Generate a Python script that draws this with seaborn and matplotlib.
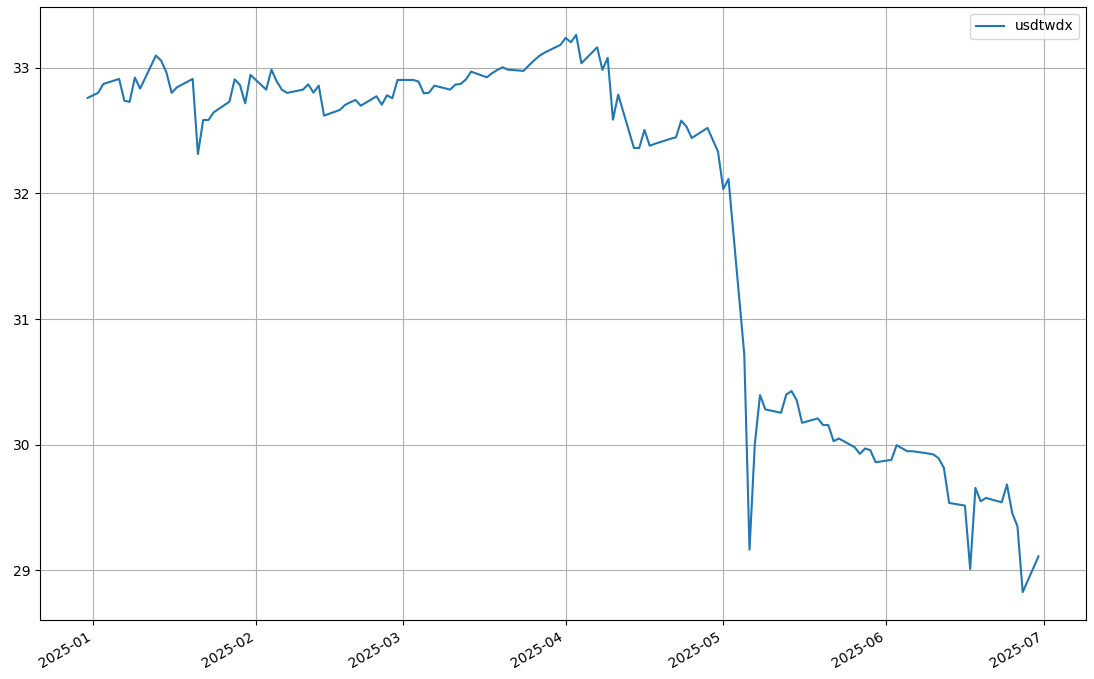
import numpy as np
import pandas as pd
import matplotlib
matplotlib.use('Agg')
import matplotlib.pyplot as plt
import seaborn as sns

# 일별 환율 (화면에서 읽은 값)
dates = [
    '2024-12-31', '2025-01-02', '2025-01-03', '2025-01-06', '2025-01-07', '2025-01-08',
    '2025-01-09', '2025-01-10', '2025-01-13', '2025-01-14', '2025-01-15', '2025-01-16',
    '2025-01-17', '2025-01-20', '2025-01-21', '2025-01-22', '2025-01-23', '2025-01-24',
    '2025-01-27', '2025-01-28', '2025-01-29', '2025-01-30', '2025-01-31',
    '2025-02-03', '2025-02-04', '2025-02-05', '2025-02-06', '2025-02-07',
    '2025-02-10', '2025-02-11', '2025-02-12', '2025-02-13', '2025-02-14',
    '2025-02-17', '2025-02-18', '2025-02-19', '2025-02-20', '2025-02-21',
    '2025-02-24', '2025-02-25', '2025-02-26', '2025-02-27', '2025-02-28',
    '2025-03-03', '2025-03-04', '2025-03-05', '2025-03-06', '2025-03-07',
    '2025-03-10', '2025-03-11', '2025-03-12', '2025-03-13', '2025-03-14',
    '2025-03-17', '2025-03-18', '2025-03-19', '2025-03-20', '2025-03-21',
    '2025-03-24', '2025-03-25', '2025-03-26', '2025-03-27', '2025-03-28',
    '2025-03-31', '2025-04-01', '2025-04-02', '2025-04-03', '2025-04-04',
    '2025-04-07', '2025-04-08', '2025-04-09', '2025-04-10', '2025-04-11',
    '2025-04-14', '2025-04-15', '2025-04-16', '2025-04-17', '2025-04-18',
    '2025-04-21', '2025-04-22', '2025-04-23', '2025-04-24', '2025-04-25',
    '2025-04-28', '2025-04-29', '2025-04-30', '2025-05-01', '2025-05-02',
    '2025-05-05', '2025-05-06', '2025-05-07', '2025-05-08', '2025-05-09',
    '2025-05-12', '2025-05-13', '2025-05-14', '2025-05-15', '2025-05-16',
    '2025-05-19', '2025-05-20', '2025-05-21', '2025-05-22', '2025-05-23',
    '2025-05-26', '2025-05-27', '2025-05-28', '2025-05-29', '2025-05-30',
    '2025-06-02', '2025-06-03', '2025-06-04', '2025-06-05', '2025-06-06',
    '2025-06-09', '2025-06-10', '2025-06-11', '2025-06-12', '2025-06-13',
    '2025-06-16', '2025-06-17', '2025-06-18', '2025-06-19', '2025-06-20',
    '2025-06-23', '2025-06-24', '2025-06-25', '2025-06-26', '2025-06-27',
    '2025-06-30',
]

usdtwdx = [
    32.761, 32.801, 32.872, 32.912, 32.739, 32.729,
    32.923, 32.835, 33.098, 33.058, 32.965, 32.801,
    32.845, 32.912, 32.314, 32.585, 32.585, 32.646,
    32.731, 32.909, 32.864, 32.718, 32.944,
    32.827, 32.986, 32.893, 32.825, 32.801,
    32.827, 32.869, 32.803, 32.859, 32.620,
    32.665, 32.705, 32.726, 32.745, 32.699,
    32.774, 32.707, 32.782, 32.758, 32.904,
    32.904, 32.891, 32.797, 32.803, 32.859,
    32.827, 32.867, 32.872, 32.907, 32.970,
    32.925, 32.958, 32.984, 33.005, 32.986,
    32.976, 33.020, 33.060, 33.096, 33.122,
    33.183, 33.239, 33.204, 33.263, 33.037,
    33.164, 32.984, 33.080, 32.588, 32.787,
    32.362, 32.362, 32.506, 32.380, 32.396,
    32.436, 32.447, 32.580, 32.532, 32.442,
    32.522, 32.428, 32.333, 32.035, 32.115,
    30.719, 29.164, 30.002, 30.395, 30.281,
    30.254, 30.400, 30.427, 30.352, 30.174,
    30.209, 30.156, 30.156, 30.028, 30.049,
    29.980, 29.927, 29.970, 29.956, 29.860,
    29.879, 29.996, 29.972, 29.948, 29.948,
    29.930, 29.922, 29.892, 29.815, 29.536,
    29.515, 29.010, 29.656, 29.549, 29.576,
    29.541, 29.683, 29.456, 29.350, 28.826,
    29.111,
]

df = pd.DataFrame({'date': pd.to_datetime(dates), 'usdtwdx': usdtwdx})

fig, ax = plt.subplots(figsize=(10.94, 6.79), dpi=100)
fig.subplots_adjust(left=0.0366, right=0.9927, top=0.9897, bottom=0.0869)

sns.lineplot(data=df, x='date', y='usdtwdx', ax=ax, label='usdtwdx')

ax.set_xlabel('')
ax.set_ylabel('')
ax.grid(True)
ax.legend(loc='upper right')
fig.autofmt_xdate()
fig.subplots_adjust(left=0.0366, right=0.9927, top=0.9897, bottom=0.0869)

plt.savefig('out.png', dpi=100)
plt.close()
